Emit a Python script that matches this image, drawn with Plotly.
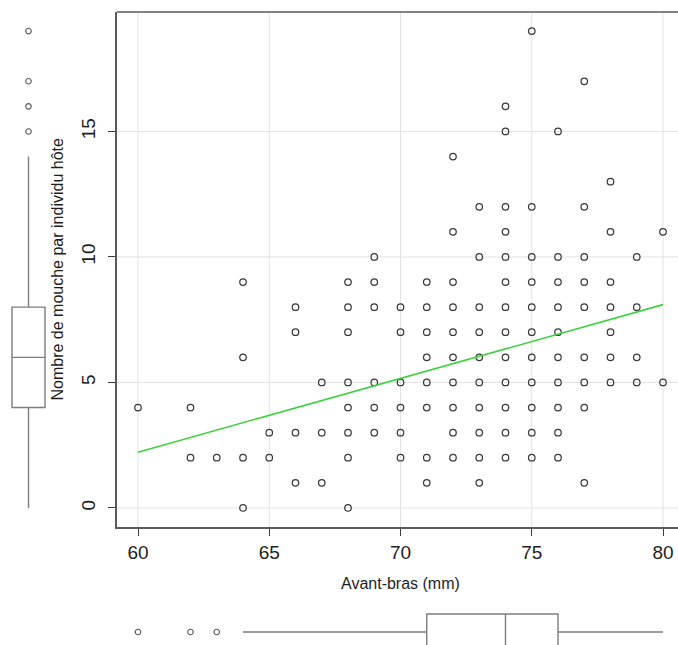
import plotly.graph_objects as go

W, H = 678, 645

# Forearm length (mm) and the distinct fly counts recorded at each length
forearm_mm = [60, 62, 63, 64, 65, 66, 67, 68, 69, 70, 71, 72, 73, 74, 75, 76, 77, 78, 79, 80]
flies_at_forearm = [
    [4],
    [4, 2],
    [2],
    [9, 6, 2, 0],
    [3, 2],
    [8, 7, 3, 1],
    [5, 3, 1],
    [9, 8, 7, 5, 4, 3, 2, 0],
    [10, 9, 8, 5, 4, 3],
    [8, 7, 5, 4, 3, 2],
    [9, 8, 7, 6, 5, 4, 2, 1],
    [14, 11, 9, 8, 7, 6, 5, 4, 3, 2],
    [12, 10, 8, 7, 6, 5, 4, 3, 2, 1],
    [16, 15, 12, 11, 10, 9, 8, 7, 6, 5, 4, 3, 2],
    [19, 12, 10, 9, 8, 7, 6, 5, 4, 3, 2],
    [15, 10, 9, 8, 7, 6, 5, 4, 3, 2],
    [17, 12, 10, 9, 8, 6, 5, 4, 1],
    [13, 11, 9, 8, 7, 6, 5],
    [10, 8, 6, 5],
    [11, 5],
]

# Least-squares line (flies ~ forearm)
fit_intercept = -15.42
fit_slope = 0.294

# Marginal box-plot summaries
flies_box = [0, 4, 6, 8, 14]          # lower whisker, Q1, median, Q3, upper whisker
flies_outliers = [15, 16, 17, 19]
forearm_box = [64, 71, 74, 76, 80]
forearm_outliers = [60, 62, 63]

x_ticks = [60, 65, 70, 75, 80]
y_ticks = [0, 5, 10, 15]

x_title = "Avant-bras (mm)"
y_title = "Nombre de mouche par individu hôte"

pts_x = [x for x, ys in zip(forearm_mm, flies_at_forearm) for _ in ys]
pts_y = [y for ys in flies_at_forearm for y in ys]


def fx(px):
    return px / W


def fy(py):
    return 1 - py / H


# main panel geometry (pixels)
P_LEFT, P_TOP, P_BOTTOM, P_RIGHT_FULL = 117, 12, 527, 684
x_lo, x_hi_full = 59.2, 80.8
y_lo, y_hi = -0.76, 19.76
x_scale = (P_RIGHT_FULL - P_LEFT) / (x_hi_full - x_lo)
x_hi = x_lo + (W - P_LEFT) / x_scale

FONT = "Liberation Sans, Arial, sans-serif"
INK = "#1e1e1e"
FRAME = "#5a5a5a"
BOXC = "#7d7d7d"
GRID = "#e2e2e2"

fig = go.Figure()

fig.add_trace(go.Scatter(
    x=pts_x, y=pts_y, mode="markers",
    marker=dict(symbol="circle-open", size=6.5, color="#3a3a3a", line=dict(width=1.25)),
    showlegend=False, hoverinfo="x+y",
))

line_x = [min(forearm_mm), max(forearm_mm)]
line_y = [fit_intercept + fit_slope * v for v in line_x]
fig.add_trace(go.Scatter(
    x=line_x, y=line_y, mode="lines",
    line=dict(color="#3fd13f", width=1.6), showlegend=False,
))

# vertical box plot of fly counts (left margin)
fig.add_trace(go.Box(
    x=[0], lowerfence=[flies_box[0]], q1=[flies_box[1]], median=[flies_box[2]],
    q3=[flies_box[3]], upperfence=[flies_box[4]],
    width=33 / 28.5, whiskerwidth=0, boxpoints=False,
    fillcolor="white", line=dict(color=BOXC, width=1.4),
    xaxis="x2", yaxis="y", showlegend=False,
))
fig.add_trace(go.Scatter(
    x=[0] * len(flies_outliers), y=flies_outliers, mode="markers",
    marker=dict(symbol="circle-open", size=5.5, color="#555555", line=dict(width=1.1)),
    xaxis="x2", yaxis="y", showlegend=False,
))

# horizontal box plot of forearm length (bottom margin)
fig.add_trace(go.Box(
    y=[0], lowerfence=[forearm_box[0]], q1=[forearm_box[1]], median=[forearm_box[2]],
    q3=[forearm_box[3]], upperfence=[forearm_box[4]], orientation="h",
    width=36 / 31, whiskerwidth=0, boxpoints=False,
    fillcolor="white", line=dict(color=BOXC, width=1.4),
    xaxis="x", yaxis="y2", showlegend=False,
))
fig.add_trace(go.Scatter(
    x=forearm_outliers, y=[0] * len(forearm_outliers), mode="markers",
    marker=dict(symbol="circle-open", size=5.5, color="#555555", line=dict(width=1.1)),
    xaxis="x", yaxis="y2", showlegend=False,
))

# grid lines restricted to the main panel
shapes = []
for v in x_ticks:
    shapes.append(dict(type="line", xref="x", yref="y", x0=v, x1=v, y0=y_lo, y1=y_hi,
                       line=dict(color=GRID, width=1), layer="below"))
for v in y_ticks:
    shapes.append(dict(type="line", xref="x", yref="y", x0=x_lo, x1=x_hi, y0=v, y1=v,
                       line=dict(color=GRID, width=1), layer="below"))
shapes.append(dict(type="line", xref="paper", yref="paper",
                   x0=fx(P_LEFT), x1=1, y0=fy(P_TOP), y1=fy(P_TOP),
                   line=dict(color=FRAME, width=1.6)))

fig.update_layout(
    width=W, height=H,
    margin=dict(l=0, r=0, t=0, b=0),
    paper_bgcolor="white", plot_bgcolor="rgba(0,0,0,0)",
    font=dict(family=FONT, color=INK),
    xaxis=dict(
        domain=[fx(P_LEFT), 1], range=[x_lo, x_hi], anchor="y",
        tickvals=x_ticks, ticktext=[str(v) for v in x_ticks],
        ticks="outside", ticklen=7, tickwidth=1.3, tickcolor="#3c3c3c",
        tickfont=dict(size=19, family=FONT, color=INK), ticklabelstandoff=0,
        showline=True, linecolor=FRAME, linewidth=1.6,
        showgrid=False, zeroline=False,
    ),
    yaxis=dict(
        domain=[fy(P_BOTTOM), fy(P_TOP)], range=[y_lo, y_hi], anchor="x",
        tickvals=y_ticks, ticktext=[str(v) for v in y_ticks], tickangle=-90,
        ticks="outside", ticklen=7, tickwidth=1.3, tickcolor="#3c3c3c",
        tickfont=dict(size=19, family=FONT, color=INK), ticklabelstandoff=6,
        showline=True, linecolor=FRAME, linewidth=1.6,
        showgrid=False, zeroline=False,
    ),
    xaxis2=dict(domain=[0, fx(57)], range=[-1, 1], anchor="free", position=0,
                visible=False),
    yaxis2=dict(domain=[0, 62 / H], range=[-13 / 31, 49 / 31], anchor="free",
                position=0, visible=False),
    shapes=shapes,
    annotations=[
        dict(text=x_title, xref="paper", yref="paper",
             x=fx((P_LEFT + P_RIGHT_FULL) / 2), y=fy(583),
             xanchor="center", yanchor="middle", showarrow=False,
             font=dict(size=16, family=FONT, color=INK)),
        dict(text=y_title, xref="paper", yref="paper",
             x=fx(57), y=fy((P_TOP + P_BOTTOM) / 2), textangle=-90,
             xanchor="center", yanchor="middle", showarrow=False,
             font=dict(size=16, family=FONT, color=INK)),
    ],
)

fig.write_html("out.html")
